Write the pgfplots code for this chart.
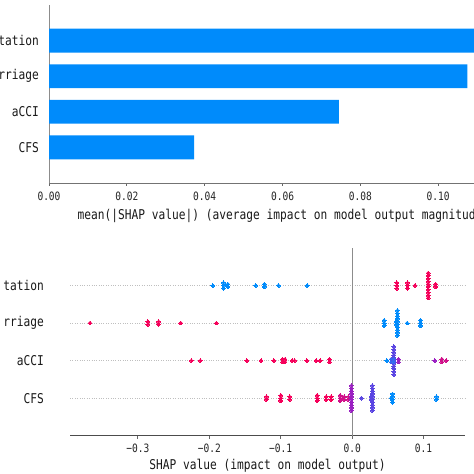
\documentclass[border=0pt]{standalone}
\usepackage{fontspec}
\setmainfont{DejaVu Sans Mono}[FakeStretch=0.83]
\usepackage{pgfplots}
\pgfplotsset{compat=1.18}

\definecolor{shapblue}{HTML}{008BFB}
\definecolor{shapred}{HTML}{F5005A}
\definecolor{shapmag}{HTML}{D0108A}
\definecolor{shappurp}{HTML}{9A1FC2}
\definecolor{shapviol}{HTML}{5A45E2}
\definecolor{shapbv}{HTML}{3568F0}

\newcommand{\lblfont}{\fontsize{13.5bp}{15bp}\selectfont}
\newcommand{\tickfont}{\fontsize{11.5bp}{13bp}\selectfont}

\pgfplotsset{
  sw/.style={only marks, mark=*, mark size=1.9bp, color=#1,
    mark options={line width=0pt, draw=#1, fill=#1}},
  shapaxis/.style={
    scale only axis, anchor=south west,
    ymin=-1, ymax=4,
    ytick={0,1,2,3},
    yticklabels={CFS,aCCI,rriage,tation},
    axis x line*=bottom, axis y line*=left,
    xtick align=outside,
    major tick length=3bp,
    ytick style={draw=none},
    tick style={black!60, line width=0.8pt},
    yticklabel style={font=\lblfont, text=black!90, inner sep=0pt, anchor=east},
    xticklabel style={font=\tickfont, text=black!85, inner sep=0pt, anchor=north},
    xlabel style={font=\lblfont, text=black!90, inner sep=0pt, anchor=north},
  },
}

\begin{document}
\begin{tikzpicture}
\path[use as bounding box, clip] (0,0) rectangle (474bp,474bp);

% mean |SHAP| bars
\begin{axis}[shapaxis,
  at={(49bp,291bp)}, width=425bp, height=178bp,
  xmin=0, xmax=0.1092,
  xbar, bar width=0.67,
  x axis line style={black!55, line width=0.8pt},
  y axis line style={black!45, line width=0.8pt},
  xtick={0,0.02,0.04,0.06,0.08,0.10},
  xticklabels={0.00,0.02,0.04,0.06,0.08,0.10},
  yticklabel style={xshift=-7bp},
  xticklabel style={yshift=-6bp},
  xlabel={mean(|SHAP value|) (average impact on model output magnitude)},
  xlabel style={xshift=22bp, yshift=-8bp},
]
\addplot[fill=shapblue, draw=none] coordinates {(0.0373,0) (0.0745,1) (0.1075,2) (0.1150,3)};
\end{axis}

% beeswarm
\begin{axis}[shapaxis,
  at={(70bp,38.3bp)}, width=395bp, height=187.7bp,
  xmin=-0.395, xmax=0.158,
  x axis line style={black!70, line width=0.8pt},
  y axis line style={draw=none},
  xtick={-0.3,-0.2,-0.1,0,0.1},
  xticklabels={−0.3,−0.2,−0.1,0.0,0.1},
  yticklabel style={xshift=-26bp},
  xticklabel style={yshift=-5bp},
  ymajorgrids, grid style={black!25, dotted, line width=0.6pt},
  xlabel={SHAP value (impact on model output)},
  xlabel style={yshift=-6bp},
  clip=false,
]
\addplot[black!45, line width=0.9pt] coordinates {(0,-1) (0,4)};

% tation
\addplot[sw=shapblue] coordinates {
 (-0.195,3) (-0.180,2.926) (-0.180,3) (-0.180,3.074) (-0.174,2.963) (-0.174,3.037)
 (-0.135,3) (-0.123,2.963) (-0.123,3.037) (-0.103,3) (-0.063,3)};
\addplot[sw=shapred] coordinates {
 (0.0626,2.926) (0.0626,3) (0.0626,3.074) (0.0775,2.926) (0.0775,3) (0.0775,3.074) (0.088,3)
 (0.1064,2.667) (0.1064,2.741) (0.1064,2.815) (0.1064,2.889) (0.1064,2.963)
 (0.1064,3.037) (0.1064,3.111) (0.1064,3.185) (0.1064,3.259) (0.1064,3.333)
 (0.117,2.963) (0.117,3.037)};

% rriage
\addplot[sw=shapred] coordinates {
 (-0.367,2) (-0.286,1.963) (-0.286,2.037) (-0.271,1.963) (-0.271,2.037)
 (-0.240,2) (-0.190,2)};
\addplot[sw=shapblue] coordinates {
 (0.0448,1.926) (0.0448,2) (0.0448,2.074)
 (0.0634,1.667) (0.0634,1.741) (0.0634,1.815) (0.0634,1.889) (0.0634,1.963)
 (0.0634,2.037) (0.0634,2.111) (0.0634,2.185) (0.0634,2.259) (0.0634,2.333)
 (0.0615,1.963) (0.0615,2.037)
 (0.077,2) (0.0957,1.926) (0.0957,2) (0.0957,2.074)};

% aCCI
\addplot[sw=shapred] coordinates {
 (-0.225,1) (-0.2125,1) (-0.1475,1) (-0.1275,1) (-0.1097,1)
 (-0.0975,0.963) (-0.0975,1.037) (-0.094,0.963) (-0.094,1.037)
 (-0.084,1) (-0.0805,1) (-0.0634,1) (-0.0504,1) (-0.0448,1)
 (-0.0318,0.963) (-0.0318,1.037)};
\addplot[sw=shapblue] coordinates {(0.0486,1)};
\addplot[sw=shapbv] coordinates {(0.0546,0.963) (0.0546,1.037)};
\addplot[sw=shapviol] coordinates {
 (0.0584,0.630) (0.0584,0.704) (0.0584,0.778) (0.0584,0.852) (0.0584,0.926) (0.0584,1)
 (0.0584,1.074) (0.0584,1.148) (0.0584,1.222) (0.0584,1.296) (0.0584,1.370)};
\addplot[sw=shapbv] coordinates {(0.0584,0.963) (0.0584,1.037)};
\addplot[sw=shappurp] coordinates {(0.0648,0.963) (0.0648,1.037) (0.1158,1)};
\addplot[sw=shapmag] coordinates {(0.1256,0.963) (0.1256,1.037) (0.1317,1)};

% CFS
\addplot[sw=shapred] coordinates {
 (-0.120,-0.037) (-0.120,0.037) (-0.0999,-0.074) (-0.0999,0) (-0.0999,0.074)
 (-0.0873,-0.037) (-0.0873,0.037) (-0.049,-0.074) (-0.049,0) (-0.049,0.074)
 (-0.0364,-0.037) (-0.0364,0.037) (-0.0294,-0.037) (-0.0294,0.037)};
\addplot[sw=shapmag] coordinates {
 (-0.0168,-0.074) (-0.0168,0) (-0.0168,0.074) (-0.0112,-0.037) (-0.0112,0.037)
 (-0.0052,-0.037) (-0.0052,0.037)};
\addplot[sw=shappurp] coordinates {
 (-0.001,-0.333) (-0.001,-0.259) (-0.001,-0.185) (-0.001,-0.111) (-0.001,-0.037)
 (-0.001,0.037) (-0.001,0.111) (-0.001,0.185) (-0.001,0.259) (-0.001,0.333)};
\addplot[sw=shapviol] coordinates {
 (0.013,0)
 (0.0284,-0.333) (0.0284,-0.259) (0.0284,-0.185) (0.0284,-0.111) (0.0284,-0.037)
 (0.0284,0.037) (0.0284,0.111) (0.0284,0.185) (0.0284,0.259) (0.0284,0.333)
 (0.0264,-0.037) (0.0264,0.037)};
\addplot[sw=shapblue] coordinates {
 (0.0545,0) (0.0564,-0.111) (0.0564,-0.037) (0.0564,0.037) (0.0564,0.111)
 (0.118,-0.037) (0.118,0.037)};
\end{axis}
\end{tikzpicture}
\end{document}
